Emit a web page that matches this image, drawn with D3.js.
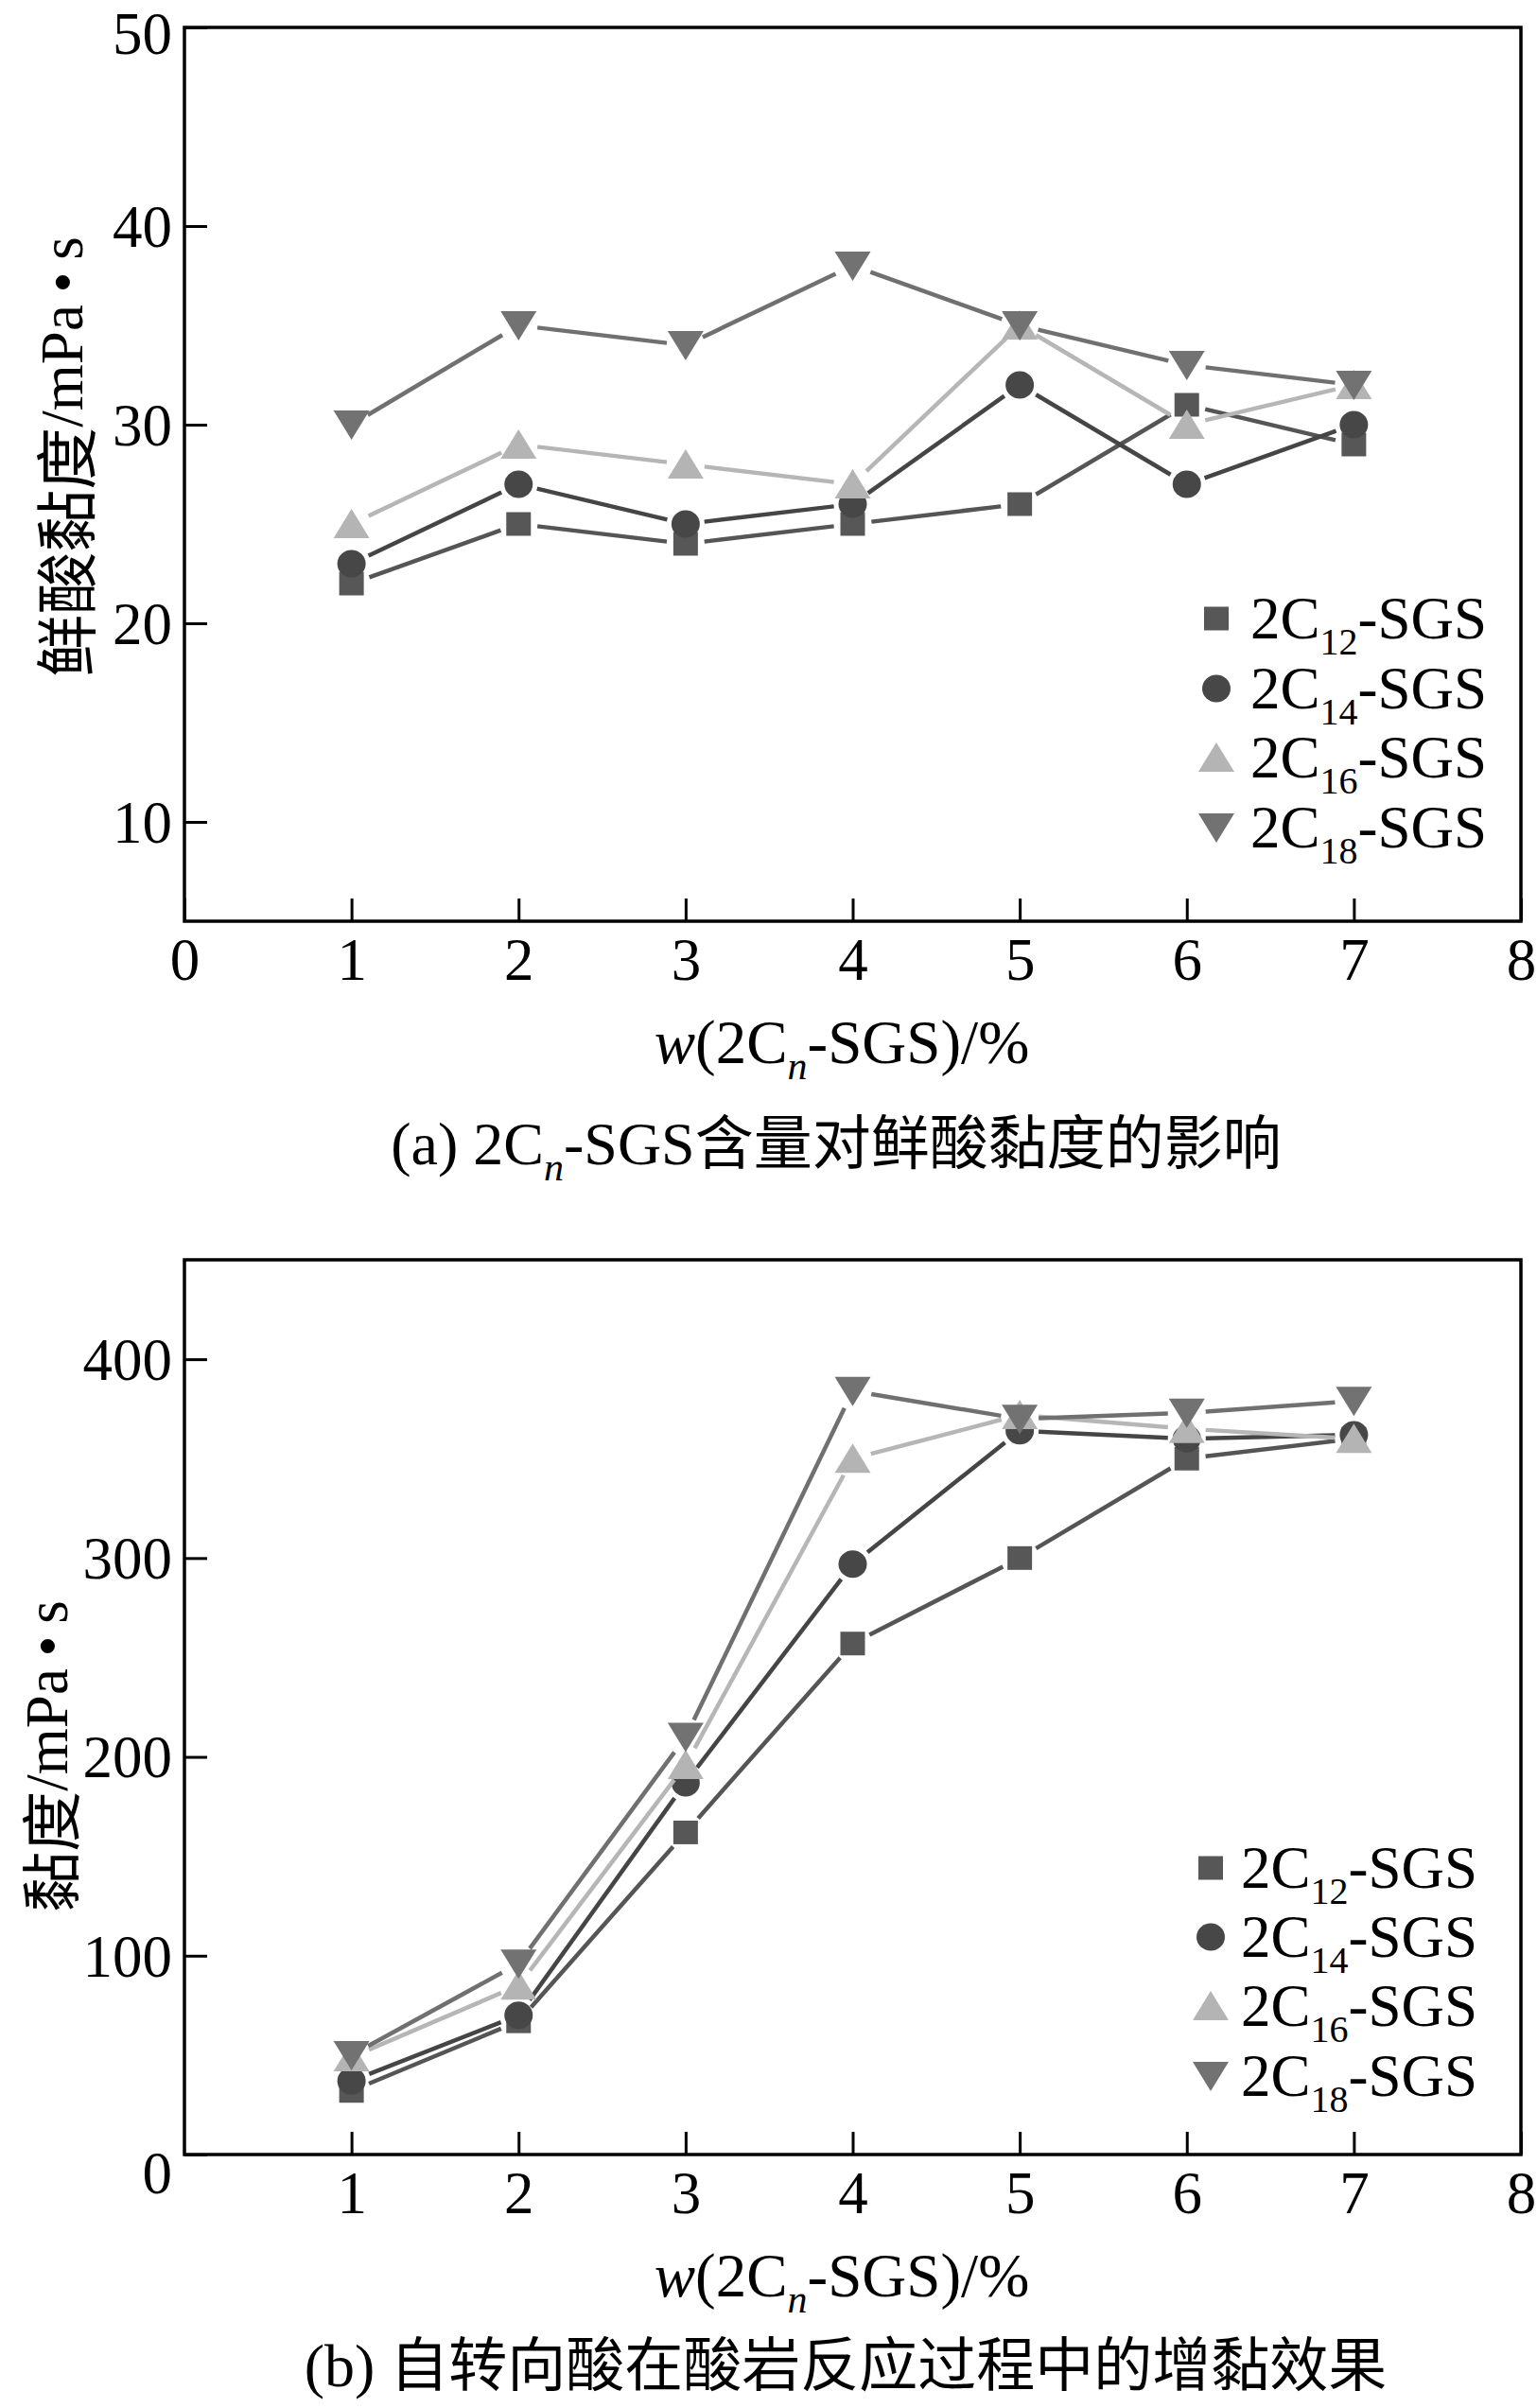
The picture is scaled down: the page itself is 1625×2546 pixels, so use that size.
<!DOCTYPE html>
<html><head><meta charset="utf-8">
<script src="https://cdn.jsdelivr.net/npm/d3@7"></script>
<style>body{margin:0;background:#fff}svg{display:block}</style>
</head><body>
<svg id="c" width="1625" height="2546"></svg>
<script>
// ---------- data ----------
const xValues = [1, 2, 3, 4, 5, 6, 7];
const seriesCarbon = ["12", "14", "16", "18"];
// panel (a): fresh acid viscosity, mPa·s
const viscA_C12 = [22, 25, 24, 25, 26, 31, 29];
const viscA_C14 = [23, 27, 25, 26, 32, 27, 30];
const viscA_C16 = [25, 29, 28, 27, 35, 30, 32];
const viscA_C18 = [30, 35, 34, 38, 35, 33, 32];
// panel (b): viscosity during acid-rock reaction, mPa·s
const viscB_C12 = [32, 67, 162, 257, 300, 350, 360];
const viscB_C14 = [37, 70, 187, 297, 364, 360, 362];
const viscB_C16 = [49, 85, 196, 350, 372, 365, 360];
const viscB_C18 = [50, 96, 210, 384, 370, 373, 379];
const xTicksA = [0, 1, 2, 3, 4, 5, 6, 7, 8];
const xTicksB = [1, 2, 3, 4, 5, 6, 7, 8];
const yTicksA = [10, 20, 30, 40, 50];
const yTicksB = [0, 100, 200, 300, 400];

// ---------- styles ----------
const SERIF = "'Liberation Serif','Times New Roman',serif";
const CJK = "'Noto Sans CJK SC','Noto Sans CJK JP',sans-serif";
const FS = 63, FSUB = 40, FCJK = 62;
const styles = [
  {shape: "square", fill: "#575757", line: "#555555"},
  {shape: "circle", fill: "#474747", line: "#454545"},
  {shape: "up", fill: "#b4b4b4", line: "#b6b6b6"},
  {shape: "down", fill: "#727272", line: "#707070"}
];
function markerPath(shape) {
  if (shape === "square") return "M-13,-12.5H13V12.5H-13Z";
  if (shape === "circle") return "M-15,0A15,14.5 0 1,0 15,0A15,14.5 0 1,0 -15,0Z";
  if (shape === "up") return "M0,-16L19,15H-19Z";
  return "M0,16L19,-15H-19Z";
}

const svg = d3.select("#c");
svg.append("rect").attr("width", 1625).attr("height", 2546).attr("fill", "#fff");

function drawPanel(cfg) {
  const x = d3.scaleLinear().domain([0, 8]).range([195, 1608]);
  const y = d3.scaleLinear().domain(cfg.yDomain).range([cfg.bottom, cfg.top]);
  const g = svg.append("g");

  // axes
  const xAxis = d3.axisBottom(x).tickValues(cfg.xTicks).tickSizeInner(-24).tickSizeOuter(0).tickPadding(17).tickFormat(d3.format("d"));
  const gx = g.append("g").attr("transform", `translate(0,${cfg.bottom})`).call(xAxis);
  const yAxis = d3.axisLeft(y).tickValues(cfg.yTicks).tickSizeInner(-24).tickSizeOuter(0).tickPadding(13).tickFormat(d3.format("d"));
  const gy = g.append("g").attr("transform", `translate(195,0)`).call(yAxis);
  [gx, gy].forEach(a => {
    a.selectAll(".domain").remove();
    a.selectAll(".tick line").attr("stroke", "#000").attr("stroke-width", 3);
    a.selectAll(".tick text").attr("font-family", SERIF).attr("font-size", FS).attr("fill", "#000");
  });
  const yMax = d3.max(cfg.yTicks);
  gy.selectAll(".tick text").attr("dy", d => {
    if (cfg.zeroShift && d === 0) return "0.64em";
    if (cfg.topShift && d === yMax) return "0.44em";
    return "0.34em";
  });
  // frame
  g.append("rect").attr("x", x(0)).attr("y", cfg.top).attr("width", x(8) - x(0)).attr("height", cfg.bottom - cfg.top)
    .attr("fill", "none").attr("stroke", "#000").attr("stroke-width", 3.5);

  // series
  const gap = 20;
  cfg.data.forEach((vals, si) => {
    const st = styles[si];
    const pts = xValues.map((xv, i) => [x(xv), y(vals[i])]);
    for (let i = 0; i < pts.length - 1; i++) {
      const [x1, y1] = pts[i], [x2, y2] = pts[i + 1];
      const L = Math.hypot(x2 - x1, y2 - y1);
      if (L <= 2 * gap) continue;
      const ux = (x2 - x1) / L, uy = (y2 - y1) / L;
      g.append("line")
        .attr("x1", x1 + ux * gap).attr("y1", y1 + uy * gap)
        .attr("x2", x2 - ux * gap).attr("y2", y2 - uy * gap)
        .attr("stroke", st.line).attr("stroke-width", 4.5);
    }
    g.selectAll(null).data(pts).enter().append("path")
      .attr("d", markerPath(st.shape))
      .attr("transform", d => `translate(${d[0]},${d[1]})`)
      .attr("fill", st.fill);
  });

  // legend
  seriesCarbon.forEach((c, si) => {
    const ry = cfg.legY[si];
    g.append("path").attr("d", markerPath(styles[si].shape))
      .attr("transform", `translate(${cfg.legX},${ry})`).attr("fill", styles[si].fill);
    const t = g.append("text").attr("x", cfg.legTextX).attr("y", ry + 21)
      .attr("font-family", SERIF).attr("font-size", FS).attr("fill", "#000");
    t.append("tspan").text("2C");
    t.append("tspan").attr("font-size", FSUB).attr("dy", 17).text(c);
    t.append("tspan").attr("dy", -17).text("-SGS");
  });

  // x axis title
  const xt = g.append("text").attr("x", 890).attr("y", cfg.xTitleY).attr("text-anchor", "middle")
    .attr("font-family", SERIF).attr("font-size", 65).attr("fill", "#000");
  xt.append("tspan").attr("font-style", "italic").text("w");
  xt.append("tspan").text("(2C");
  xt.append("tspan").attr("font-style", "italic").attr("font-size", 42).attr("dy", 17).text("n");
  xt.append("tspan").attr("dy", -17).text("-SGS)/%");

  // y axis title
  const yt = g.append("text").attr("transform", `translate(${cfg.yTitleX},${cfg.yTitleY}) rotate(-90)`)
    .attr("text-anchor", "middle").attr("dominant-baseline", "central").attr("font-size", FS).attr("fill", "#000");
  yt.append("tspan").attr("font-family", CJK).attr("font-size", cfg.yTitleCJKSize).text(cfg.yTitleCN);
  yt.append("tspan").attr("font-family", SERIF).text("/mPa\u2009\u2022\u2009s");

  // caption
  const cap = g.append("text").attr("x", cfg.capX).attr("y", cfg.capY).attr("text-anchor", "middle")
    .attr("font-size", 64).attr("fill", "#000");
  cfg.caption(cap);
}

drawPanel({
  top: 29, bottom: 974, yDomain: [5, 50], xTicks: xTicksA, yTicks: yTicksA, zeroShift: false, topShift: true,
  data: [viscA_C12, viscA_C14, viscA_C16, viscA_C18],
  legX: 1286, legTextX: 1322, legY: [654, 728, 801, 875],
  xTitleY: 1124, yTitleX: 66, yTitleY: 483, yTitleCN: "鲜酸黏度", yTitleCJKSize: 66,
  capX: 884, capY: 1231,
  caption: cap => {
    cap.append("tspan").attr("font-family", SERIF).text("(a) 2C");
    cap.append("tspan").attr("font-family", SERIF).attr("font-style", "italic").attr("font-size", 42).attr("dy", 17).text("n");
    cap.append("tspan").attr("font-family", SERIF).attr("dy", -17).text("-SGS");
    cap.append("tspan").attr("font-family", CJK).attr("font-size", FCJK).text("含量对鲜酸黏度的影响");
  }
});
drawPanel({
  top: 1332, bottom: 2278, yDomain: [0, 450], xTicks: xTicksB, yTicks: yTicksB, zeroShift: true, topShift: false,
  data: [viscB_C12, viscB_C14, viscB_C16, viscB_C18],
  legX: 1280, legTextX: 1312, legY: [1975, 2048, 2121, 2195],
  xTitleY: 2428, yTitleX: 50, yTitleY: 1857, yTitleCN: "黏度", yTitleCJKSize: 64,
  capX: 894, capY: 2523,
  caption: cap => {
    cap.append("tspan").attr("font-family", SERIF).text("(b) ");
    cap.append("tspan").attr("font-family", CJK).attr("font-size", FCJK).text("自转向酸在酸岩反应过程中的增黏效果");
  }
});
</script>
</body></html>
